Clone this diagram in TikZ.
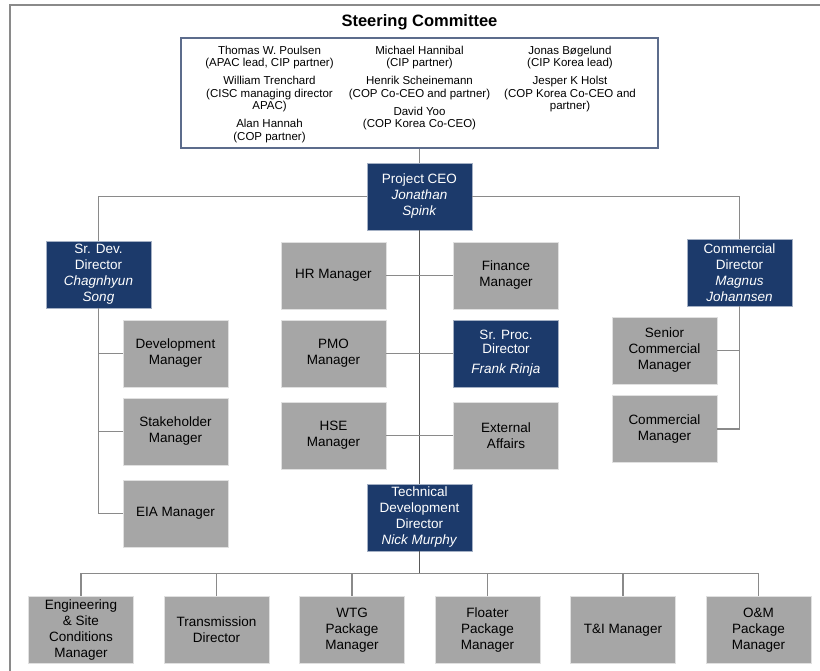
\documentclass[tikz,border=0pt]{standalone}
\usepackage{fontspec}
\setmainfont{Liberation Sans}
\usepackage{tikz}
\usepackage{xcolor}
\usetikzlibrary{positioning}
\definecolor{orgblue}{HTML}{1C3A6B}
\definecolor{orggray}{HTML}{A6A6A6}
\definecolor{orgline}{HTML}{8A8A8A}
\definecolor{orgspine}{HTML}{595959}
\definecolor{orgframe}{HTML}{5C6C8C}

\begin{document}
\begin{tikzpicture}[x=1pt, y=-1pt, on grid, line width=1.2pt,
    lead/.style={rectangle, fill=orgblue, draw=orgblue!40!white, line width=0.8pt, text=white,
      minimum width=105pt, minimum height=67pt, inner sep=0pt, align=center,
      font=\fontsize{13.5}{16}\selectfont},
    post/.style={rectangle, fill=orggray, draw=white!88!black, line width=0.8pt, text=black,
      minimum width=105pt, minimum height=67pt, inner sep=0pt, align=center,
      font=\fontsize{13.5}{16}\selectfont},
    member/.style={align=center, inner sep=0pt, font=\fontsize{11.5}{12.5}\selectfont},
    hv/.style={to path={-| (\tikztotarget)}},
    vh/.style={to path={|- (\tikztotarget)}}]
    \useasboundingbox (0,0) rectangle (820,671);
    \draw[orgline] (10,671) -- (10,5) -- (820,5);

    \node[lead] (ceo) at (419.5,196.5) {Project CEO\\\textit{Jonathan}\\\textit{Spink}};
    \node[draw=orgframe, minimum width=477pt, minimum height=110pt, above=103.5pt of ceo] (steer) {};
    \node[font=\bfseries\fontsize{16.5}{18}\selectfont, above=71pt of steer] (title) {Steering Committee};
    \node[member, below left=8pt and 150pt of steer.north, anchor=north] (cola)
      {Thomas W. Poulsen\\(APAC lead, CIP partner)\\[5.5pt]William Trenchard\\(CISC managing director\\APAC)\\[5.5pt]Alan Hannah\\(COP partner)};
    \node[member, below=8pt of steer.north, anchor=north] (colb)
      {Michael Hannibal\\(CIP partner)\\[5.5pt]Henrik Scheinemann\\(COP Co-CEO and partner)\\[5.5pt]David Yoo\\(COP Korea Co-CEO)};
    \node[member, below right=8pt and 150.5pt of steer.north, anchor=north] (colc)
      {Jonas Bøgelund\\(CIP Korea lead)\\[5.5pt]Jesper K Holst\\(COP Korea Co-CEO and\\partner)};

    \node[post, below left=79pt and 86pt of ceo] (hr) {HR Manager};
    \node[post, right=172.5pt of hr] (fin) {Finance\\Manager};
    \node[post, below=78pt of hr] (pmo) {PMO\\Manager};
    \node[lead, right=172.5pt of pmo] (proc) {Sr. Proc.\\[-2pt]Director\\[4pt]\textit{Frank Rinja}};
    \node[post, below=82pt of pmo] (hse) {HSE\\Manager};
    \node[post, right=172.5pt of hse] (ext) {External\\Affairs};
    \node[lead, below=321pt of ceo] (tdd) {Technical\\Development\\Director\\\textit{Nick Murphy}};

    \node[lead, below left=78pt and 321pt of ceo] (srdev) {Sr. Dev.\\Director\\\textit{Chagnhyun}\\\textit{Song}};
    \node[post, below right=79pt and 77pt of srdev] (devm) {Development\\Manager};
    \node[post, below=78pt of devm] (stake) {Stakeholder\\Manager};
    \node[post, below=82pt of stake] (eia) {EIA Manager};

    \node[lead, below right=76pt and 320pt of ceo] (comdir) {Commercial\\Director\\\textit{Magnus}\\\textit{Johannsen}};
    \node[post, below left=78pt and 75pt of comdir] (srcom) {Senior\\Commercial\\Manager};
    \node[post, below=78.5pt of srcom] (comm) {Commercial\\Manager};

    \node[post, below left=112.5pt and 67.5pt of tdd] (wtg) {WTG\\Package\\Manager};
    \node[post, left=135.5pt of wtg] (trans) {Transmission\\Director};
    \node[post, left=135.5pt of trans] (eng) {Engineering\\\& Site\\Conditions\\Manager};
    \node[post, right=135.5pt of wtg] (float) {Floater\\Package\\Manager};
    \node[post, right=135.5pt of float] (ti) {T\&I Manager};
    \node[post, right=135.5pt of ti] (om) {O\&M\\Package\\Manager};
    \coordinate[below=22pt of tdd.south] (bus);

    \draw[orgline] (steer) -- (ceo);
    \draw[orgline] (ceo.west) edge[hv] (srdev.north) (ceo.east) edge[hv] (comdir.north);
    \draw[orgspine, line width=1.6pt] (ceo) -- (tdd) (tdd.south) -- (bus);
    \draw[orgline] (hr) -- (fin) (pmo) -- (proc) (hse) -- (ext);
    \draw[orgline] (srdev.south) edge[vh] (devm.west) edge[vh] (stake.west) edge[vh] (eia.west);
    \draw[orgline] (comdir.south) edge[vh] (srcom.east) edge[vh] (comm.east);
    \draw[orgline] (bus) edge[hv] (eng.north) edge[hv] (trans.north) edge[hv] (wtg.north)
                   edge[hv] (float.north) edge[hv] (ti.north) edge[hv] (om.north);
\end{tikzpicture}
\end{document}
